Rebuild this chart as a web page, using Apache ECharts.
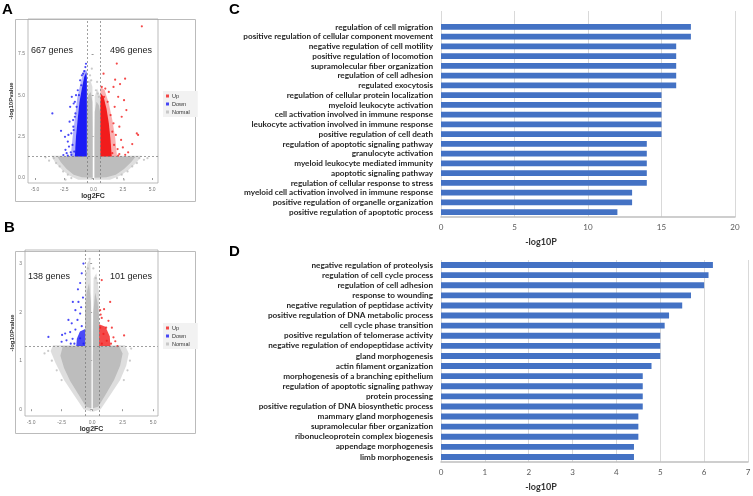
<!DOCTYPE html>
<html><head><meta charset="utf-8">
<script src="https://cdn.jsdelivr.net/npm/echarts@6/dist/echarts.min.js"></script>
<style>html,body{margin:0;padding:0;background:#fff}#c{width:753px;height:496px}</style>
</head><body><div id="c"></div>
<script>
// ---------- Panel C (GO terms, -log10P) ----------
const catC = ['regulation of cell migration','positive regulation of cellular component movement','negative regulation of cell motility','positive regulation of locomotion','supramolecular fiber organization','regulation of cell adhesion','regulated exocytosis','regulation of cellular protein localization','myeloid leukocyte activation','cell activation involved in immune response','leukocyte activation involved in immune response','positive regulation of cell death','regulation of apoptotic signaling pathway','granulocyte activation','myeloid leukocyte mediated immunity','apoptotic signaling pathway','regulation of cellular response to stress','myeloid cell activation involved in immune response','positive regulation of organelle organization','positive regulation of apoptotic process'];
const valC = [17,17,16,16,16,16,16,15,15,15,15,15,14,14,14,14,14,13,13,12];
const ticksC = [0,5,10,15,20];
// ---------- Panel D ----------
const catD = ['negative regulation of proteolysis','regulation of cell cycle process','regulation of cell adhesion','response to wounding','negative regulation of peptidase activity','positive regulation of DNA metabolic process','cell cycle phase transition','positive regulation of telomerase activity','negative regulation of endopeptidase activity','gland morphogenesis','actin filament organization','morphogenesis of a branching epithelium','regulation of apoptotic signaling pathway','protein processing','positive regulation of DNA biosynthetic process','mammary gland morphogenesis','supramolecular fiber organization','ribonucleoprotein complex biogenesis','appendage morphogenesis','limb morphogenesis'];
const valD = [6.2,6.1,6.0,5.7,5.5,5.2,5.1,5.0,5.0,5.0,4.8,4.6,4.6,4.6,4.6,4.5,4.5,4.5,4.4,4.4];
const ticksD = [0,1,2,3,4,5,6,7];
// ---------- Volcano thresholds / ticks ----------
const threshFC = [-0.58, 0.58];
const threshP = [1.3];
const ticksVx = [-5,-2.5,0,2.5,5];
const ticksAy = [0,2.5,5,7.5];
const ticksBy = [0,1,2,3];
const countsA = ['667 genes','496 genes'];
const countsB = ['138 genes','101 genes'];
// ---------- Volcano A: dense regions (outline of point clouds) ----------
const normalA_L = [[-0.08,0.02],[-1.0,0.05],[-1.7,0.2],[-2.3,0.55],[-2.8,0.95],[-3.1,1.3],[-0.58,1.3],[-0.58,4.4],[-0.45,5.0],[-0.25,5.2],[-0.1,4.6],[-0.08,3.0]];
const normalA_R = [[0.08,0.02],[1.1,0.05],[1.9,0.2],[2.6,0.55],[3.2,0.95],[3.6,1.3],[0.58,1.3],[0.58,3.9],[0.45,4.4],[0.25,4.6],[0.1,4.0],[0.08,2.5]];
const normalA_Lo = [[-0.08,-0.1],[-1.3,-0.1],[-2.1,0.15],[-2.7,0.5],[-3.3,0.95],[-3.6,1.35],[-0.58,1.35],[-0.58,5.3],[-0.3,6.0],[-0.1,5.5]];
const normalA_Ro = [[0.08,-0.1],[1.4,-0.1],[2.3,0.15],[3.0,0.5],[3.7,0.95],[4.1,1.35],[0.58,1.35],[0.58,4.9],[0.3,5.4],[0.1,4.9]];
const downA_core = [[-0.58,1.3],[-1.6,1.3],[-1.5,2.5],[-1.35,3.6],[-1.2,4.6],[-1.0,5.4],[-0.8,6.1],[-0.62,6.4],[-0.58,6.0]];
const downA_out = [[-0.58,1.3],[-1.95,1.3],[-1.8,2.4],[-1.6,3.6],[-1.4,4.8],[-1.1,5.8],[-0.8,6.5],[-0.58,6.5]];
const upA_core = [[0.58,1.3],[1.55,1.3],[1.45,2.3],[1.3,3.3],[1.1,4.2],[0.85,4.9],[0.62,5.1],[0.58,4.5]];
const upA_out = [[0.58,1.3],[2.0,1.3],[1.85,2.4],[1.6,3.5],[1.3,4.5],[0.95,5.3],[0.62,5.5],[0.58,5.4]];
// ---------- Volcano A: scattered genes ----------
const downA = [[-3.52,3.9],[-2.78,2.85],[-2.44,2.49],[-2.58,1.39],[-1.86,4.9],[-2.0,4.3],[-2.1,1.9],[-1.73,3.1],[-1.6,3.7],[-1.15,5.9],[-1.0,6.2],[-0.8,6.45],[-1.35,5.3],[-2.3,1.5],[-2.2,2.2],[-1.9,2.7],[-2.05,3.4],[-1.7,4.5],[-1.5,5.0],[-0.7,6.7],[-0.65,6.9],[-2.4,1.7],[-1.95,1.55],[-2.15,2.6],[-1.65,1.6],[-1.8,2.0],[-1.7,2.9],[-1.55,3.9],[-1.45,4.3],[-1.25,5.0],[-1.05,5.6],[-1.9,1.4],[-2.2,1.35],[-1.75,3.5],[-1.6,4.6],[-0.9,6.3]];
const upA = [[4.12,9.16],[1.98,6.91],[2.69,6.0],[2.26,5.67],[1.84,5.94],[1.7,5.5],[2.1,4.9],[2.6,4.7],[2.4,3.7],[2.8,4.1],[3.69,2.69],[3.8,2.6],[3.3,2.05],[2.5,1.85],[2.95,1.55],[2.2,1.45],[0.9,4.9],[0.7,5.5],[2.2,3.1],[1.9,2.6],[2.35,2.3],[2.7,1.4],[1.8,4.3],[2.05,1.75],[0.85,6.3],[1.3,5.2],[1.6,1.5],[1.75,2.0],[1.6,2.8],[1.45,3.8],[1.2,4.6],[1.0,5.4],[2.1,1.35],[1.7,3.3]];
const normalA = [[-3.4,1.2],[-3.2,0.9],[-2.9,0.7],[-2.6,0.4],[-2.2,0.2],[-1.9,0.0],[3.9,1.2],[3.7,0.9],[3.3,0.7],[2.9,0.4],[2.4,0.2],[2.0,0.0],[-0.3,6.2],[-0.2,5.9],[-0.45,5.8],[0.2,5.3],[0.35,5.1],[0.45,4.9],[-3.8,1.05],[4.3,1.1],[-2.4,-0.1],[2.6,-0.1],[-0.15,6.6],[0.3,5.8],[-4.1,1.25],[4.6,1.2]];
// ---------- Volcano B: dense regions ----------
const normalB_L = [[-0.06,0.02],[-0.5,0.05],[-1.1,0.3],[-1.8,0.58],[-2.3,0.85],[-2.6,1.1],[-2.4,1.3],[-0.57,1.3],[-0.57,2.0],[-0.45,2.4],[-0.25,2.6],[-0.1,2.2],[-0.06,1.2]];
const normalB_R = [[0.06,0.02],[0.5,0.05],[1.1,0.3],[1.8,0.6],[2.3,0.9],[2.5,1.15],[2.2,1.3],[0.57,1.3],[0.57,1.9],[0.45,2.2],[0.25,2.4],[0.1,2.0],[0.06,1.0]];
const normalB_Lo = [[-0.06,-0.05],[-0.7,0.0],[-1.5,0.3],[-2.3,0.6],[-3.0,0.95],[-3.4,1.2],[-3.2,1.32],[-0.57,1.32],[-0.57,2.6],[-0.4,3.0],[-0.15,3.1],[-0.06,2.0]];
const normalB_Ro = [[0.06,-0.05],[0.7,0.0],[1.5,0.3],[2.3,0.6],[2.8,0.9],[3.0,1.15],[2.7,1.32],[0.57,1.32],[0.57,2.4],[0.35,2.8],[0.12,2.7],[0.06,1.6]];
const downB_core = [[-0.57,1.3],[-1.3,1.3],[-1.25,1.45],[-1.0,1.6],[-0.57,1.65]];
const upB_core = [[0.57,1.3],[1.5,1.3],[1.45,1.5],[1.1,1.7],[0.57,1.75]];
// ---------- Volcano B: scattered genes ----------
const downB = [[-0.71,3.0],[-0.85,2.8],[-0.98,2.6],[-1.16,2.47],[-1.58,2.21],[-1.12,2.21],[-1.37,2.04],[-0.98,1.97],[-1.94,1.84],[-1.67,1.77],[-1.2,1.84],[-2.21,1.56],[-1.8,1.59],[-2.46,1.53],[-2.5,1.39],[-3.58,1.49],[-2.1,1.42],[-0.85,1.71],[-1.37,1.64],[-0.98,1.46],[-0.7,1.35],[-1.6,1.45],[-1.45,1.35],[-0.75,2.3],[-0.9,2.1],[-1.75,1.35]];
const upB = [[0.79,2.66],[1.48,2.21],[0.66,2.04],[0.98,2.06],[0.79,1.88],[1.34,1.82],[1.15,1.68],[1.62,1.68],[0.66,1.68],[1.75,1.48],[2.62,1.52],[2.08,1.3],[0.93,1.55],[1.2,1.41],[0.8,1.35],[1.9,1.4],[1.55,1.35],[0.7,1.95]];
const normalB = [[-0.2,3.1],[-0.35,2.9],[0.1,2.9],[0.3,2.7],[-3.6,1.2],[-3.3,1.0],[-2.9,0.8],[-2.5,0.6],[3.1,1.0],[2.9,0.8],[2.6,0.6],[3.2,1.25],[-3.9,1.15],[0.45,2.6],[-0.5,2.8]];

const BLUE='#1c1cf5', RED='#f21c1c', GRAY='#bdbdbd';
const FONT='Liberation Sans, Arial, sans-serif';

function poly(name, pts, color, op, ai){
  return {type:'custom', name, xAxisIndex:ai, yAxisIndex:ai, data:pts, silent:true, z:1,
    itemStyle:{color},
    renderItem:(params, api)=>{
      if(params.dataIndex!==0) return null;
      return {type:'polygon', shape:{points:pts.map(p=>api.coord(p))}, style:{fill:color, opacity:op}};
    }};
}
function pts(name, data, color, ai, extra){
  return Object.assign({type:'scatter', name, xAxisIndex:ai, yAxisIndex:ai, data, symbolSize:2.2, z:3,
    itemStyle:{color}, silent:true}, extra||{});
}
function volcanoAxes(ai, yTicks, ymin, ymax, xmin, xmax, fmtY, yGap){
  const lab = {fontSize:5, color:'#777', fontFamily:FONT};
  return {
    x:{type:'value', gridIndex:ai, min:xmin, max:xmax, splitLine:{show:false},
      axisLine:{show:false}, axisTick:{show:true, length:2, lineStyle:{color:'#999'}, customValues:ticksVx},
      axisLabel:Object.assign({customValues:ticksVx, formatter:v=>v.toFixed(1), margin:4}, lab),
      name:'log2FC', nameLocation:'middle', nameGap:10,
      nameTextStyle:{fontSize:7, fontWeight:'bold', color:'#333', fontFamily:FONT}},
    y:{type:'value', gridIndex:ai, min:ymin, max:ymax, splitLine:{show:false},
      axisLine:{show:false}, axisTick:{show:true, length:2, lineStyle:{color:'#999'}, customValues:yTicks},
      axisLabel:Object.assign({customValues:yTicks, formatter:fmtY, margin:3}, lab),
      name:'-log10Pvalue', nameLocation:'middle', nameGap:yGap,
      nameTextStyle:{fontSize:6, fontWeight:'bold', color:'#333', fontFamily:FONT}}
  };
}
const vA = volcanoAxes(0, ticksAy, -0.3, 9.6, -5.6, 5.5, v=>v.toFixed(1), 10);
const vB = volcanoAxes(1, ticksBy, -0.14, 3.28, -5.5, 5.4, v=>String(v), 8);

const barLabel = {fontSize:8.2, fontWeight:'bold', color:'#262626', fontFamily:'Lato, sans-serif', margin:8, interval:0, hideOverlap:false};
const tickLabel = {fontSize:8, color:'#595959', fontFamily:'Lato, sans-serif'};

const markLines = {silent:true, symbol:'none', label:{show:false},
  lineStyle:{type:[2,2], color:'#777', width:0.7},
  data:[{xAxis:threshFC[0]},{xAxis:threshFC[1]},{yAxis:threshP[0]}]};

const option = {
  animation:false,
  backgroundColor:'#fff',
  grid:[
    {left:28, top:19, width:130, height:164, show:true, borderColor:'#aaa', borderWidth:0.8, outerBoundsMode:'none'},
    {left:25, top:250, width:133, height:166, show:true, borderColor:'#aaa', borderWidth:0.8, outerBoundsMode:'none'},
    {left:441, top:11, width:294, height:206, outerBoundsMode:'none'},
    {left:441, top:22, width:294, height:195, outerBoundsMode:'none'},
    {left:441, top:260, width:307, height:202, outerBoundsMode:'none'}
  ],
  xAxis:[ vA.x, vB.x,
    {type:'value', gridIndex:2, min:0, max:20, interval:5, axisLabel:{show:false}, axisTick:{show:false}, axisLine:{show:false},
      splitLine:{show:true, lineStyle:{color:'#d9d9d9', width:1}}},
    {type:'value', gridIndex:3, min:0, max:20, interval:5, splitLine:{show:false}, axisTick:{show:false},
      axisLine:{show:true, lineStyle:{color:'#bfbfbf', width:1.5}},
      axisLabel:Object.assign({margin:6, formatter:v=>ticksC.includes(v)?String(v):''}, tickLabel),
      name:'-log10P', nameLocation:'middle', nameGap:21,
      nameTextStyle:{fontSize:9, fontWeight:'bold', color:'#333', fontFamily:'Lato, sans-serif', padding:[0,94,0,0]}},
    {type:'value', gridIndex:4, min:0, max:7, interval:1, axisTick:{show:false},
      splitLine:{show:true, lineStyle:{color:'#d9d9d9', width:1}},
      axisLine:{show:true, lineStyle:{color:'#bfbfbf', width:1.5}},
      axisLabel:Object.assign({margin:6, formatter:v=>ticksD.includes(v)?String(v):''}, tickLabel),
      name:'-log10P', nameLocation:'middle', nameGap:21,
      nameTextStyle:{fontSize:9, fontWeight:'bold', color:'#333', fontFamily:'Lato, sans-serif', padding:[0,107,0,0]}}
  ],
  yAxis:[ vA.y, vB.y,
    {type:'value', gridIndex:2, min:0, max:1, show:false},
    {type:'category', gridIndex:3, data:catC, inverse:true, axisTick:{show:false}, axisLine:{show:false}, axisLabel:barLabel},
    {type:'category', gridIndex:4, data:catD, inverse:true, axisTick:{show:false}, axisLine:{show:false}, axisLabel:barLabel}
  ],
  legend:[
    {left:163, top:91, orient:'vertical', data:['Up','Down','Normal'], icon:'rect', itemWidth:3, itemHeight:3, itemGap:2,
      backgroundColor:'#f2f2f2', padding:[2,8,2,3], textStyle:{fontSize:5.5, color:'#333', fontFamily:FONT, padding:[0,0,0,-2]}, selectedMode:false},
    {left:163, top:323, orient:'vertical', data:['Up','Down','Normal'], icon:'rect', itemWidth:3, itemHeight:3, itemGap:2,
      backgroundColor:'#f2f2f2', padding:[2,8,2,3], textStyle:{fontSize:5.5, color:'#333', fontFamily:FONT, padding:[0,0,0,-2]}, selectedMode:false}
  ],
  series:[
    // A
    pts('Up', upA, RED, 0),
    pts('Down', downA, BLUE, 0),
    pts('Normal', normalA, GRAY, 0, {markLine:markLines, z:2}),
    poly('Normal', normalA_Lo, GRAY, 0.5, 0), poly('Normal', normalA_Ro, GRAY, 0.5, 0),
    poly('Normal', normalA_L, GRAY, 1, 0), poly('Normal', normalA_R, GRAY, 1, 0),
    poly('Down', downA_out, BLUE, 0.35, 0), poly('Down', downA_core, BLUE, 1, 0),
    poly('Up', upA_out, RED, 0.35, 0), poly('Up', upA_core, RED, 1, 0),
    // B
    pts('Up', upB, RED, 1),
    pts('Down', downB, BLUE, 1),
    pts('Normal', normalB, GRAY, 1, {markLine:markLines, z:2}),
    poly('Normal', normalB_Lo, GRAY, 0.5, 1), poly('Normal', normalB_Ro, GRAY, 0.5, 1),
    poly('Normal', normalB_L, GRAY, 1, 1), poly('Normal', normalB_R, GRAY, 1, 1),
    poly('Down', downB_core, BLUE, 0.8, 1),
    poly('Up', upB_core, RED, 0.8, 1),
    // C, D
    {type:'bar', xAxisIndex:3, yAxisIndex:3, data:valC, barWidth:'58%', itemStyle:{color:'#4472C4'}, silent:true},
    {type:'bar', xAxisIndex:4, yAxisIndex:4, data:valD, barWidth:'58%', itemStyle:{color:'#4472C4'}, silent:true}
  ],
  graphic:[
    {type:'rect', left:13, top:17, shape:{width:180, height:182}, style:{fill:'none', stroke:'#bbb', lineWidth:1}, silent:true, z:-1},
    {type:'rect', left:13, top:249, shape:{width:180, height:182}, style:{fill:'none', stroke:'#bbb', lineWidth:1}, silent:true, z:-1},
    {type:'text', left:2, top:2, style:{text:'A', font:'bold 15px '+FONT, fill:'#000'}},
    {type:'text', left:4, top:220, style:{text:'B', font:'bold 15px '+FONT, fill:'#000'}},
    {type:'text', left:229, top:2, style:{text:'C', font:'bold 15px '+FONT, fill:'#000'}},
    {type:'text', left:229, top:244, style:{text:'D', font:'bold 15px '+FONT, fill:'#000'}},
    {type:'text', left:31, top:46, style:{text:countsA[0], font:'9px '+FONT, fill:'#222'}, z:10},
    {type:'text', left:110, top:46, style:{text:countsA[1], font:'9px '+FONT, fill:'#222'}, z:10},
    {type:'text', left:28, top:272, style:{text:countsB[0], font:'9px '+FONT, fill:'#222'}, z:10},
    {type:'text', left:110, top:272, style:{text:countsB[1], font:'9px '+FONT, fill:'#222'}, z:10}
  ]
};
const chart = echarts.init(document.getElementById('c'), null, {renderer:'canvas'});
chart.setOption(option);
</script></body></html>
